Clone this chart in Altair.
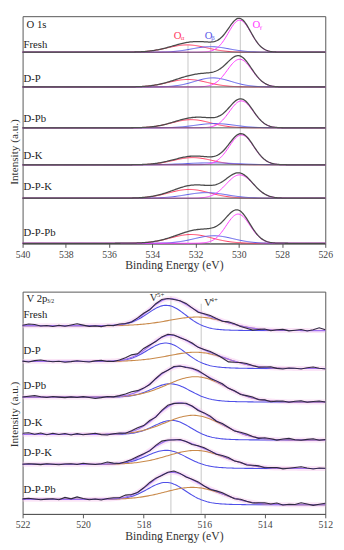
import altair as alt
import numpy as np
import pandas as pd

FONT = "Liberation Serif"
samples = ["Fresh", "D-P", "D-Pb", "D-K", "D-P-K", "D-P-Pb"]

# ---------------- O 1s (top panel), intensity in plot units ----------------
o_base = [196.5, 160.8, 118.8, 80.8, 46.5, 0.2]
oa_c = [532.39, 532.36, 532.20, 532.13, 532.29, 532.20]
oa_h = [7.5, 7.7, 8.4, 7.4, 9.0, 9.0]
oa_s = [0.90, 0.90, 0.90, 0.90, 0.95, 0.95]
ob_c = [531.31, 531.20, 531.10, 531.30, 531.50, 531.16]
ob_h = [5.7, 9.3, 4.4, 2.0, 5.7, 7.7]
ob_s = [0.85, 0.85, 0.90, 1.20, 0.95, 0.90]
og_c = [529.96, 529.96, 529.88, 529.88, 529.96, 530.03]
og_h = [33.0, 28.5, 27.7, 30.7, 24.0, 30.0]
og_s = [0.52, 0.57, 0.55, 0.57, 0.62, 0.55]
o_sep = [196.5, 160.8, 118.8, 80.8, 46.5]
o_vlines = [532.35, 531.30, 529.93]
o_vtop = [203.5, 205.5, 229.5]

# ---------------- V 2p3/2 (bottom panel) ----------------
v_left = [193.4, 156.7, 120.0, 81.7, 51.0, 15.0]
v_right = [188.4, 149.4, 115.0, 76.0, 46.7, 9.4]
v5_c = [517.22, 517.22, 517.08, 517.03, 517.22, 517.22]
v5_h = [22.5, 21.0, 15.0, 16.0, 15.5, 19.0]
v5_s = [0.62, 0.62, 0.62, 0.60, 0.65, 0.62]
v4_c = [516.15, 516.15, 516.22, 516.28, 516.22, 516.28]
v4_h = [12.5, 14.5, 24.0, 23.0, 17.0, 16.0]
v4_s = [0.96, 0.96, 0.96, 0.95, 0.96, 0.95]
v_vlines = [517.10, 516.10]
v_vtop = [223.5, 216.0]

# residual of measured spectrum vs fit, read every 0.2 eV from 522 to 512
v_noise = {
    "Fresh": [0.5, 1.8, 1.2, -0.3, 0.2, -0.8, 0.4, -0.5, 0.8, 2.0,
              0.6, -0.7, -0.2, -1.0, 0.3, -0.4, 0.6, 0.0, -0.6, 0.5,
              1.0, -0.5, 0.8, 1.2, 0.3, -0.6, 0.4, 1.0, 0.2, -0.8,
              0.6, 1.2, 0.4, -0.4, 0.8, 0.5, -0.6, -1.2, -2.0, -0.5,
              0.6, -0.8, 0.4, 1.0, -0.4, 0.3, 1.0, -0.5, 0.8, 2.8, 0.8],
    "D-P": [0.3, -0.5, 0.8, 1.5, 0.4, -0.3, 0.2, -0.8, -0.2, 0.6,
            0.0, -0.6, 0.5, 1.0, -0.2, -0.6, 0.4, 1.5, 2.5, 0.5,
            2.0, 0.8, -0.5, 0.5, 1.2, 0.6, -0.4, 0.5, 0.8, -0.3,
            0.5, 1.0, 0.3, -1.0, -2.8, -1.2, 0.5, 1.0, 0.2, -0.6,
            0.4, 1.0, -0.3, -0.8, 0.5, 0.2, -0.5, 0.8, 1.5, 0.3, -0.4],
    "D-Pb": [0.2, 1.0, 1.6, 0.4, -0.3, 0.6, 0.0, -0.5, 0.3, -0.4,
             0.5, -0.3, -1.5, -0.6, 0.4, -0.2, 0.6, 1.5, 2.2, 1.0,
             0.2, -0.5, 0.6, 1.0, -0.3, 0.8, 0.4, -0.6, 0.5, 1.0,
             0.2, -0.6, 0.4, 0.9, -0.3, 0.5, -0.5, 0.6, 1.0, -0.4,
             0.5, -0.8, 0.3, 0.8, -0.5, 0.6, 1.2, -0.3, 0.5, 1.0, 0.0],
    "D-K": [1.2, 1.8, 0.2, 1.5, -0.3, 1.2, 0.0, 1.0, -0.5, 0.8,
            -0.4, 0.5, 1.2, -0.3, -0.8, 0.3, 0.6, -0.5, 0.8, 1.5,
            0.5, 1.2, -0.6, 0.8, 1.5, 0.4, -0.5, 0.6, 0.3, -0.8,
            0.5, 1.0, -0.4, 0.8, 0.3, -0.6, 0.8, 1.2, 0.2, -0.5,
            1.0, 0.4, -0.6, 0.8, 1.5, 0.2, -0.4, 0.6, 1.2, -0.3, 0.5],
    "D-P-K": [0.0, 0.6, 0.2, -0.3, 0.5, 0.0, -0.4, 0.3, 0.6, -0.2,
              1.0, 0.3, -0.3, 0.5, 2.0, 0.6, -0.4, 0.3, 0.8, 1.2,
              0.4, -0.6, 1.0, 1.8, 0.5, -0.4, 0.6, 0.2, -0.8, 0.5,
              1.0, 0.3, -0.5, 0.6, 1.0, -0.2, 0.4, -0.6, 0.5, 0.8,
              -0.4, 0.3, 0.6, -0.6, 0.2, 1.0, 1.8, 0.4, -0.5, 0.5, 0.2],
    "D-P-Pb": [0.5, 1.2, 0.3, -0.5, 0.2, 0.6, -0.4, 2.0, 0.5, 2.5,
               0.8, -0.5, 0.3, -0.8, 0.6, 1.0, 0.4, 2.0, 0.6, -0.3,
               0.5, 1.2, 0.8, -0.4, 0.6, 1.5, 0.5, -0.6, 0.4, 1.0,
               0.0, -0.8, 0.5, 1.0, 0.3, -0.6, 0.8, 0.2, -0.5, 0.6,
               1.2, 0.3, 1.5, -0.4, 0.5, 0.2, 2.0, 0.8, -0.6, 0.5, 1.5],
}

# label positions (data units)
o_label_y = [203.5, 168.8, 127.5, 89.5, 57.5, 10.8]
v_label_y = [204.0, 167.7, 131.0, 93.4, 62.7, 24.4]

C_OA, C_OB, C_OG = "#ff3a60", "#5a5ae8", "#ff3cff"
C_V5, C_V4 = "#4f4fe8", "#c98a4b"


def gauss(E, c, h, s):
    return h * np.exp(-0.5 * ((E - c) / s) ** 2)


# ---------- build O 1s data ----------
Eo = np.round(np.arange(540.0, 525.99, -0.05), 3)
rows_c, rows_env = [], []
for i, smp in enumerate(samples):
    a = gauss(Eo, oa_c[i], oa_h[i], oa_s[i])
    b = gauss(Eo, ob_c[i], ob_h[i], ob_s[i])
    g = gauss(Eo, og_c[i], og_h[i], og_s[i])
    base = o_base[i]
    for name, col, arr in (("a", C_OA, a), ("b", C_OB, b), ("g", C_OG, g)):
        rows_c.append(pd.DataFrame({"E": Eo, "y": base + arr, "key": smp + name, "col": col}))
    rows_env.append(pd.DataFrame({"E": Eo, "y": base + a + b + g, "sample": smp}))
o_comp = pd.concat(rows_c)
o_env = pd.concat(rows_env)

# ---------- build V 2p data ----------
Ev = np.round(np.arange(522.0, 511.99, -0.05), 3)
rows_c, rows_env, rows_raw = [], [], []
for i, smp in enumerate(samples):
    p5 = gauss(Ev, v5_c[i], v5_h[i], v5_s[i])
    p4 = gauss(Ev, v4_c[i], v4_h[i], v4_s[i])
    tot = p5 + p4
    cum = np.cumsum(tot[::-1])[::-1]
    bg = v_right[i] + (v_left[i] - v_right[i]) * cum / cum[0]
    env = bg + tot
    rows_c.append(pd.DataFrame({"E": Ev, "y": bg + p5, "key": smp + "5", "col": C_V5}))
    rows_c.append(pd.DataFrame({"E": Ev, "y": bg + p4, "key": smp + "4", "col": C_V4}))
    rows_env.append(pd.DataFrame({"E": Ev, "y": env, "sample": smp}))
    idx = np.arange(0, len(Ev), 4)
    rows_raw.append(pd.DataFrame({"E": Ev[idx], "y": env[idx] + np.array(v_noise[smp]), "sample": smp}))
v_comp = pd.concat(rows_c)
v_env = pd.concat(rows_env)
v_raw = pd.concat(rows_raw)

W = 311
HT = 233.5
HB = 228.4


def xenc(lo, hi):
    return alt.X(
        "E:Q",
        scale=alt.Scale(domain=[lo, hi], reverse=True, nice=False, zero=False),
        axis=alt.Axis(
            title="Binding Energy (eV)",
            values=list(range(lo, hi + 1)),
            labelExpr="datum.value % 2 == 0 ? datum.label : ''",
            labelOverlap=False, labelFlush=False,
            tickSize=4, tickColor="#555", domainColor="#555",
            labelFont=FONT, labelFontSize=10, labelColor="#444", labelPadding=2,
            titleFont=FONT, titleFontSize=12, titleFontWeight="normal",
            titleColor="#333", titlePadding=1,
        ),
    )


def yenc(h, ty):
    return alt.Y(
        "y:Q",
        scale=alt.Scale(domain=[0, h], nice=False, zero=False),
        axis=alt.Axis(
            title="Intensity (a.u.)", labels=False, ticks=False, domain=False,
            titleFont=FONT, titleFontSize=11.5, titleFontWeight="normal",
            titleColor="#333", titleX=-8.5, titleY=ty, titleBaseline="middle",
        ),
    )


def texts(df, size, align="left", dy=0):
    return alt.Chart(df).mark_text(
        font=FONT, fontSize=size, align=align, baseline="middle", dy=dy
    ).encode(x="E:Q", y="y:Q", text="t:N", color=alt.Color("c:N", scale=None))


# ---------- top chart ----------
xt = xenc(526, 540)
yt = yenc(HT, 139)

vr_top = alt.Chart(pd.DataFrame({"E": o_vlines, "y": 0.0, "y2": o_vtop})).mark_rule(
    color="#b8b8b8", strokeWidth=0.8).encode(x=xt, y=yt, y2="y2:Q")
sep_top = alt.Chart(pd.DataFrame({"y": o_sep})).mark_rule(
    color="#555", strokeWidth=1).encode(y=yt)
comp_top = alt.Chart(o_comp).mark_line(strokeWidth=1).encode(
    x=xt, y=yt, detail="key:N", color=alt.Color("col:N", scale=None))
env_top = alt.Chart(o_env).mark_line(strokeWidth=1.3, color="#4a4a4a").encode(
    x=xt, y=yt, detail="sample:N")

lab_top = texts(pd.DataFrame({"E": [539.955] * 6, "y": o_label_y, "t": samples, "c": ["#222"] * 6}), 11)
title_top = texts(pd.DataFrame({"E": [539.82], "y": [224.8], "t": ["O 1s"], "c": ["#222"]}), 11)
O_main = texts(pd.DataFrame({"E": [532.83, 531.40, 529.19], "y": [213.2, 213.2, 224.2],
                             "t": ["O", "O", "O"], "c": [C_OA, C_OB, C_OG]}), 11, "center")
O_sub = texts(pd.DataFrame({"E": [532.685, 531.27, 529.06], "y": [211.2, 211.2, 222.2],
                            "t": ["α", "β", "γ"], "c": [C_OA, C_OB, C_OG]}), 7)

top = alt.layer(vr_top, comp_top, env_top, sep_top, lab_top, title_top, O_main, O_sub).properties(
    width=W, height=HT)

# ---------- bottom chart ----------
xb = xenc(512, 522)
yb = yenc(HB, 125.7)

vr_bot = alt.Chart(pd.DataFrame({"E": v_vlines, "y": 0.0, "y2": v_vtop})).mark_rule(
    color="#b8b8b8", strokeWidth=0.8).encode(x=xb, y=yb, y2="y2:Q")
haze = alt.Chart(v_env).mark_line(strokeWidth=5, color="#f7c6ee", opacity=0.45).encode(
    x=xb, y=yb, detail="sample:N")
comp_bot = alt.Chart(v_comp).mark_line(strokeWidth=1.1).encode(
    x=xb, y=yb, detail="key:N", color=alt.Color("col:N", scale=None))
env_bot = alt.Chart(v_env).mark_line(strokeWidth=1.2, color="#a070f0").encode(
    x=xb, y=yb, detail="sample:N")
raw_bot = alt.Chart(v_raw).mark_line(strokeWidth=1.1, color="#2e2a40").encode(
    x=xb, y=yb, detail="sample:N")

lab_bot = texts(pd.DataFrame({"E": [521.97] * 6, "y": v_label_y, "t": samples, "c": ["#222"] * 6}), 11)
title_bot = texts(pd.DataFrame({"E": [521.87], "y": [221.0], "t": ["V 2p"], "c": ["#222"]}), 11)
title_sub = texts(pd.DataFrame({"E": [521.2], "y": [219.0], "t": ["3/2"], "c": ["#222"]}), 6)
V_main = texts(pd.DataFrame({"E": [517.67, 515.875], "y": [221.7, 216.7], "t": ["V", "V"],
                             "c": ["#333", "#333"]}), 11, "center")
V_sup = texts(pd.DataFrame({"E": [517.56, 515.79], "y": [225.0, 220.0], "t": ["5+", "4+"],
                            "c": ["#333", "#333"]}), 7)

bottom = alt.layer(vr_bot, haze, comp_bot, env_bot, raw_bot, lab_bot, title_bot, title_sub,
                   V_main, V_sup).properties(width=W, height=HB)

chart = alt.vconcat(top, bottom, spacing=17).properties(
    padding={"left": 0, "top": 0, "right": 0, "bottom": 0}
).configure_view(stroke="#555", strokeWidth=1).configure_axis(grid=False)

chart.save("out.html", embed_options={"renderer": "svg", "actions": False})
